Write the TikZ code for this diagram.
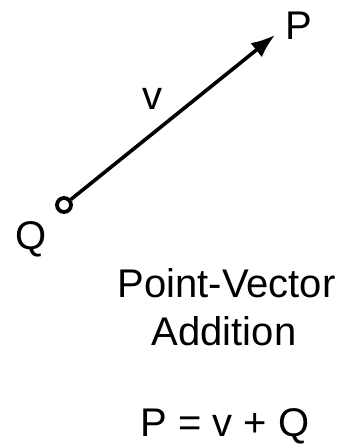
\documentclass[tikz,border=0pt]{standalone}
\usepackage{fontspec}
\setmainfont{Liberation Sans}
\usetikzlibrary{arrows.meta}
\begin{document}
\begin{tikzpicture}[x=1bp,y=-1bp,
  lbl/.style={anchor=base,inner sep=0pt,font=\fontsize{40bp}{48bp}\selectfont},
  ptmark/.style={circle,draw,line width=3.8bp,minimum size=14bp,inner sep=0pt},
  vecline/.style={line width=3.6bp,-{Latex[length=24bp,width=18bp]}}]
  \useasboundingbox (0,0) rectangle (339,445);
  \node[ptmark] (q) at (64,205) {};
  \coordinate (tip) at (275,35);
  \draw[vecline] (q) -- (tip);
  \node[lbl] (plab) at (298.5,40) {P};
  \node[lbl] (qlab) at (31.5,249) {Q};
  \node[lbl] (vlab) at (152,110) {v};
  \node[lbl] (t1) at (226.5,297) {Point-Vector};
  \node[lbl] (t2) at (224,345) {Addition};
  \node[lbl] (eq) at (225,436) {P = v + Q};
\end{tikzpicture}
\end{document}
